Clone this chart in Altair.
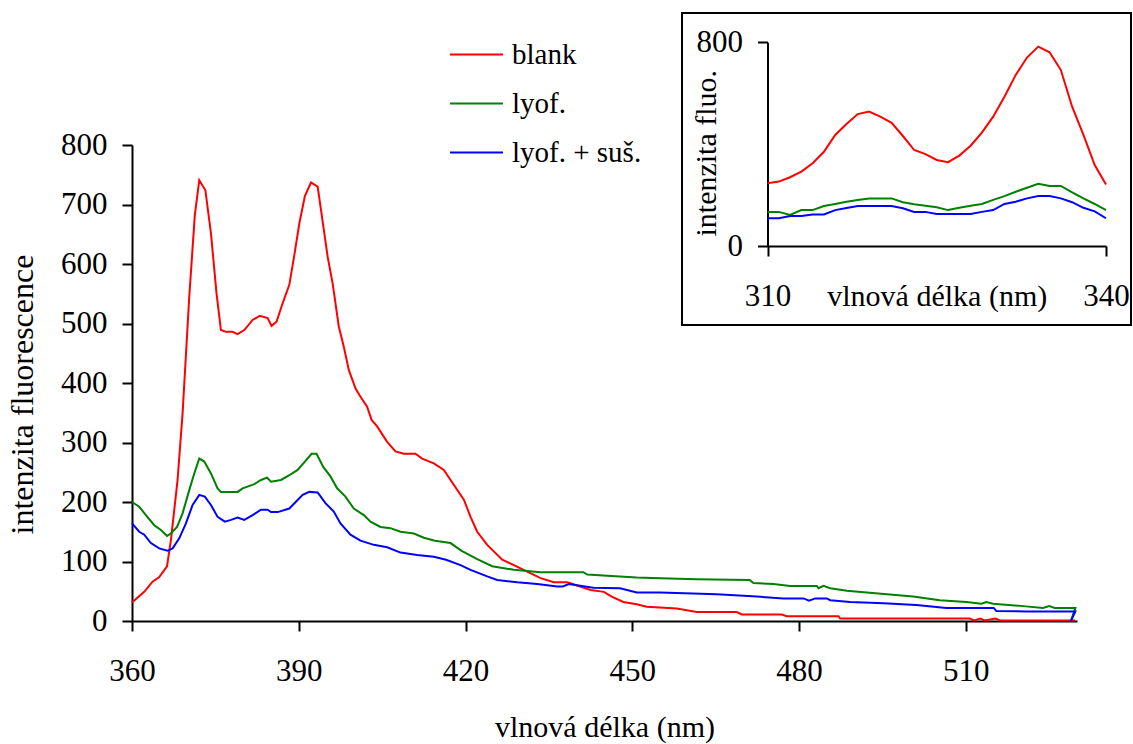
import altair as alt
import pandas as pd

FONT = "Liberation Serif, 'Times New Roman', Times, serif"

series = ["blank", "lyof.", "lyof. + suš."]
colors = ["#FF0000", "#008000", "#0000FF"]

# ---- main spectrum (360-530 nm) ----
blank_nm = [360, 362.2, 363.7, 364.9, 366.3, 367, 368.2, 369.1, 370.3, 371.3, 372.1, 373.2, 374.2, 375.2,
            376, 376.9, 378.1, 379, 380.2, 381.7, 383, 384.4, 385.1, 386, 387.1, 388.3, 389.2, 390.1,
            391.1, 392.2, 393.4, 394, 395.2, 396.1, 397.2, 398.1, 399, 400.2, 401.1, 402.3, 403.1, 404.1,
            405.9, 407.4, 408.9, 411, 412.2, 414.3, 416.1, 417.3, 419.7, 420.9, 422.1, 423.9, 426.6,
            428.7, 431.1, 433.5, 435.9, 438.3, 442.5, 444.9, 446.3, 448.4, 450.8, 452.6, 458, 461.6,
            468.8, 469.7, 476.9, 477.8, 487.1, 487.4, 510.7, 511.5, 512.6, 513.4, 515.3, 516.2, 529.7]
blank_val = [31, 49, 66, 74, 92, 136, 237, 349, 545, 682, 741, 724, 652, 551,
             489, 486, 486, 482, 489, 506, 513, 509, 496, 503, 534, 565, 615, 668,
             714, 737, 730, 691, 612, 567, 495, 461, 422, 391, 377, 360, 338, 327,
             301, 285, 281, 281, 273, 265, 254, 237, 204, 175, 150, 128, 103,
             94, 83, 72, 65, 65, 52, 49, 41, 32, 28, 24, 21, 15,
             15, 11, 11, 8, 8, 4, 4, 1, 4, 1, 4, 1, 1]

lyof_nm = [360, 361.3, 362.5, 364, 365.2, 366.3, 367, 368.1, 369.1, 370.3, 371.2, 372.1, 373, 374.2,
           375.4, 376, 379, 379.9, 382, 383.2, 384.3, 385, 386.8, 388.3, 389.8, 391.1, 392.3, 393.2,
           394.4, 395.7, 396.9, 398.4, 399.9, 401.7, 402.9, 404.7, 406.5, 408.3, 410.7, 412.5, 414.5,
           417.3, 419.3, 422.1, 424.8, 428.7, 433.5, 441.2, 441.9, 445.5, 450.8, 455, 461.6, 471.1,
           471.8, 475.4, 478.4, 483.2, 483.5, 484.4, 485.6, 488.6, 492.2, 495.8, 500.5, 505.3, 510.1,
           512.8, 513.7, 514.9, 520.3, 523.9, 525, 526, 529.7, 528.9]
lyof_val = [200, 192, 178, 161, 153, 143, 147, 158, 181, 220, 248, 273, 268, 248,
            223, 217, 217, 223, 230, 237, 241, 234, 237, 245, 254, 268, 281, 281,
            259, 243, 223, 209, 189, 178, 167, 158, 156, 150, 147, 140, 135,
            131, 118, 104, 92, 86, 82, 82, 78, 76, 73, 72, 70, 69,
            64, 62, 59, 59, 55, 59, 55, 51, 48, 45, 41, 35, 32,
            29, 32, 29, 25, 22, 25, 22, 22, 0]

sus_nm = [360, 361.3, 362.2, 363.4, 364.9, 366.4, 367.3, 368.5, 369.7, 370.9, 372.1, 373.1, 374.2,
          375.4, 376.7, 377.8, 379, 380.2, 381.7, 383.2, 384.4, 385, 386.2, 388.3, 390.7, 391.9,
          393.4, 394.8, 396.3, 397.5, 399.3, 401.1, 403.5, 405.9, 408.3, 411.3, 414.3, 416.5, 419.1,
          420.9, 423.9, 425.7, 429.3, 432.9, 436.5, 437.5, 438.6, 443, 447.8, 450.8, 455, 465.2,
          472.4, 477.2, 480.8, 481.8, 482.9, 485, 485.6, 489.2, 495.2, 501.1, 506.5, 515, 515.5,
          520.9, 529.7, 528.9]
sus_val = [164, 150, 145, 131, 122, 118, 122, 139, 164, 195, 212, 209, 195,
           175, 167, 170, 174, 170, 178, 187, 187, 183, 183, 189, 212, 217,
           216, 198, 184, 164, 145, 135, 128, 124, 115, 111, 108, 103, 94,
           86, 75, 69, 65, 62, 58, 58, 62, 56, 55, 48, 48, 45,
           41, 38, 38, 34, 38, 38, 35, 32, 30, 27, 22, 22, 17,
           16, 16, 0]

# ---- inset (310-340 nm) ----
inset_nm = list(range(310, 341))
inset_blank = [246, 253, 270, 292, 325, 370, 436, 479, 518, 528, 508, 484, 432, 377, 361, 338,
               329, 355, 394, 445, 508, 586, 672, 740, 783, 761, 691, 547, 436, 318, 242]
inset_lyof = [134, 134, 122, 141, 141, 157, 165, 174, 181, 187, 187, 187, 172, 164, 158, 152,
              141, 150, 158, 165, 181, 196, 213, 229, 244, 236, 236, 211, 187, 165, 141]
inset_sus = [109, 109, 118, 118, 124, 124, 141, 149, 157, 157, 157, 157, 148, 134, 134, 126,
             126, 126, 126, 134, 141, 165, 174, 187, 196, 196, 187, 172, 150, 136, 109]


def build(groups):
    rows = []
    for name, xs, ys in groups:
        for i, (x, y) in enumerate(zip(xs, ys)):
            rows.append({"nm": x, "val": y, "series": name, "idx": i})
    return pd.DataFrame(rows)


main_df = build([(series[0], blank_nm, blank_val),
                 (series[1], lyof_nm, lyof_val),
                 (series[2], sus_nm, sus_val)])
inset_df = build([(series[0], inset_nm, inset_blank),
                  (series[1], inset_nm, inset_lyof),
                  (series[2], inset_nm, inset_sus)])

W, H = 945, 476
color_scale = alt.Scale(domain=series, range=colors)

axis_common = dict(grid=False, domainColor="black", domainWidth=2, tickColor="black", tickWidth=2,
                   tickSize=10, labelFont=FONT, labelFontSize=31, labelColor="black",
                   titleFont=FONT, titleFontWeight="normal", titleColor="black")

main = alt.Chart(main_df).mark_line(strokeWidth=2).encode(
    x=alt.X("nm:Q",
            scale=alt.Scale(domain=[360, 530], nice=False, zero=False),
            axis=alt.Axis(orient="bottom", values=[360, 390, 420, 450, 480, 510],
                          title="vlnová délka (nm)", labelBaseline="alphabetic", labelPadding=49,
                          labelFlush=False, titleBaseline="alphabetic", titleY=115, titleFontSize=30,
                          **axis_common)),
    y=alt.Y("val:Q",
            scale=alt.Scale(domain=[0, 800], nice=False),
            axis=alt.Axis(orient="left", values=list(range(0, 801, 100)),
                          title="intenzita fluorescence", labelAlign="right", labelBaseline="middle",
                          labelPadding=15, labelFlush=False, titleAngle=270, titleBaseline="alphabetic",
                          titleX=-100, titleY=249, titleFontSize=32, **axis_common)),
    color=alt.Color("series:N", scale=color_scale,
                    legend=alt.Legend(title=None, orient="none", legendX=317, legendY=-118,
                                      symbolType="stroke", symbolStrokeWidth=2, symbolSize=2809,
                                      labelFont=FONT, labelFontSize=29, labelColor="black",
                                      labelOffset=8, rowPadding=6, labelLimit=400)),
    order=alt.Order("idx:Q"),
)

inset = alt.Chart(inset_df).mark_line(strokeWidth=2).encode(
    x=alt.X("nm:Q",
            scale=alt.Scale(domain=[310, 340], range=[635.5, 974], nice=False, zero=False),
            axis=alt.Axis(orient="bottom", offset=-375, values=[310, 340], title="vlnová délka (nm)",
                          labelBaseline="alphabetic", labelPadding=49, labelFlush=False,
                          titleBaseline="alphabetic", titleY=59, titleFontSize=30, **axis_common)),
    y=alt.Y("val:Q",
            scale=alt.Scale(domain=[0, 800], range=[101, -102.7], nice=False),
            axis=alt.Axis(orient="left", offset=-635.5, values=[0, 800], title="intenzita fluo.",
                          labelAlign="right", labelBaseline="middle", labelPadding=15, labelFlush=False,
                          titleAngle=270, titleBaseline="alphabetic", titleX=-52, titleY=7.7,
                          titleFontSize=30, **axis_common)),
    color=alt.Color("series:N", scale=color_scale, legend=None),
    order=alt.Order("idx:Q"),
)

box = alt.Chart(pd.DataFrame({"k": [0]})).mark_rect(
    fillOpacity=0, stroke="black", strokeWidth=2
).encode(x=alt.value(550), x2=alt.value(999), y=alt.value(-132), y2=alt.value(180))

chart = alt.layer(box, main, inset).resolve_scale(
    x="independent", y="independent"
).properties(
    width=W, height=H,
    background="white",
    autosize=alt.AutoSizeParams(type="none"),
    padding={"left": 132, "top": 145, "right": 56, "bottom": 123},
).configure_view(stroke=None)

chart.save("out.html", embed_options={"renderer": "svg", "actions": False})
